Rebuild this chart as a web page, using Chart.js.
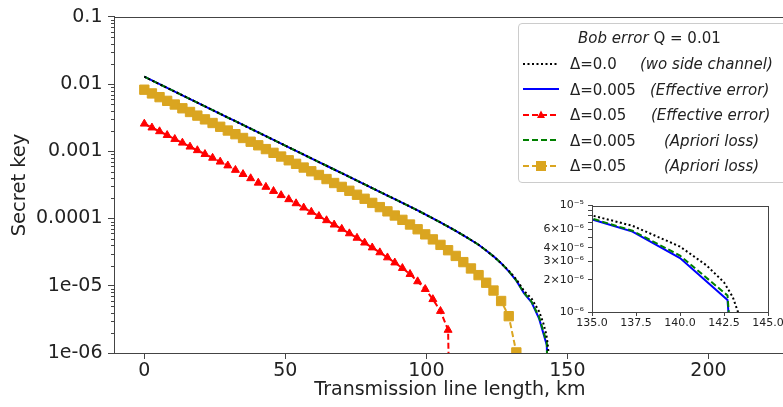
<!DOCTYPE html>
<html>
<head>
<meta charset="utf-8">
<script src="https://cdn.jsdelivr.net/npm/chart.js@4.4.1/dist/chart.umd.min.js"></script>
<style>
  html, body { margin: 0; padding: 0; background: #fff; overflow: hidden; }
  #wrap { position: relative; width: 800px; height: 407px; }
  #main { position: absolute; left: 0; top: 0; }
  #inset { position: absolute; left: 540px; top: 195px; }
  #legend {
    position: absolute; left: 518px; top: 23px; width: 280px; height: 160px;
    box-sizing: border-box; border: 1px solid #ccc; border-radius: 4px;
    background: rgba(255,255,255,0.8);
    font-family: 'DejaVu Sans', sans-serif; font-size: 15px; color: #222;
  }
  #legend .t { position: absolute; line-height: 18px; white-space: nowrap; }
  #legend svg { position: absolute; left: 4px; }
  #legend i { font-style: italic; }
</style>
</head>
<body>
<div id="wrap">
  <canvas id="main" width="800" height="407"></canvas>
  <canvas id="inset" width="250" height="140"></canvas>
  <div id="legend">
    <div class="t" style="left:59px; top:5px"><i>Bob error</i> Q = 0.01</div>

    <svg style="top:34px" width="36" height="12"><line x1="0" y1="6" x2="36" y2="6" stroke="#000" stroke-width="2" stroke-dasharray="2 2.5"/></svg>
    <div class="t" style="left:51px; top:31px">&Delta;=0.0</div>
    <div class="t" style="left:121px; top:31px"><i>(wo side channel)</i></div>

    <svg style="top:59px" width="36" height="12"><line x1="0" y1="6" x2="36" y2="6" stroke="#0000ff" stroke-width="2"/></svg>
    <div class="t" style="left:51px; top:57px">&Delta;=0.005</div>
    <div class="t" style="left:131px; top:57px"><i>(Effective error)</i></div>

    <svg style="top:85px" width="36" height="12"><line x1="0" y1="6" x2="36" y2="6" stroke="#ff0000" stroke-width="2" stroke-dasharray="6 3"/><polygon points="18,1.5 22,9 14,9" fill="#ff0000"/></svg>
    <div class="t" style="left:51px; top:82px">&Delta;=0.05</div>
    <div class="t" style="left:132px; top:82px"><i>(Effective error)</i></div>

    <svg style="top:110px" width="36" height="12"><line x1="0" y1="6" x2="36" y2="6" stroke="#008000" stroke-width="2" stroke-dasharray="6 3"/></svg>
    <div class="t" style="left:51px; top:108px">&Delta;=0.005</div>
    <div class="t" style="left:145px; top:108px"><i>(Apriori loss)</i></div>

    <svg style="top:136px" width="36" height="12"><line x1="0" y1="6" x2="36" y2="6" stroke="#daa520" stroke-width="2" stroke-dasharray="6 3"/><rect x="13" y="1" width="10" height="10" fill="#daa520"/></svg>
    <div class="t" style="left:51px; top:133px">&Delta;=0.05</div>
    <div class="t" style="left:145px; top:133px"><i>(Apriori loss)</i></div>
  </div>
</div>
<script>
// distance grid (km) shared by the effective-error / apriori-loss runs
var distKm = [0, 2.7, 5.4, 8.1, 10.8, 13.5, 16.2, 18.8, 21.5, 24.2, 26.9, 29.6, 32.3, 35, 37.7,
  40.4, 43.1, 45.8, 48.5, 51.2, 53.8, 56.5, 59.2, 61.9, 64.6, 67.3, 70, 72.7, 75.4, 78.1,
  80.8, 83.5, 86.2, 88.8, 91.5, 94.2, 96.9, 99.6, 102.3, 105, 107.7, 110.4, 113.1, 115.8,
  118.5, 121.2, 123.8, 126.5, 129.2, 131.9, 134.6, 137.3, 140, 142.7, 145.4];

// the no-side-channel curve was sampled finer near its cut-off
var noSideKm = [0, 2.7, 5.4, 8.1, 10.8, 13.5, 16.2, 18.8, 21.5, 24.2, 26.9, 29.6, 32.3, 35, 37.7,
  40.4, 43.1, 45.8, 48.5, 51.2, 53.8, 56.5, 59.2, 61.9, 64.6, 67.3, 70, 72.7, 75.4, 78.1,
  80.8, 83.5, 86.2, 88.8, 91.5, 94.2, 96.9, 99.6, 102.3, 105, 107.7, 110.4, 113.1, 115.8,
  118.5, 121.2, 123.8, 126.5, 129.2, 131.9, 134.6, 137.3, 140, 141.5, 142.5, 143, 143.4];

// secret key rates; 1e-12 marks where the rate has dropped to zero
var keyNoSide = [1.29e-2, 1.135e-2, 9.98e-3, 8.79e-3, 7.74e-3, 6.81e-3, 6.0e-3, 5.31e-3, 4.67e-3, 4.11e-3,
  3.62e-3, 3.18e-3, 2.81e-3, 2.47e-3, 2.17e-3, 1.91e-3, 1.68e-3, 1.48e-3, 1.305e-3, 1.148e-3,
  1.016e-3, 8.95e-4, 7.87e-4, 6.93e-4, 6.1e-4, 5.37e-4, 4.73e-4, 4.17e-4, 3.66e-4, 3.23e-4,
  2.84e-4, 2.5e-4, 2.2e-4, 1.95e-4, 1.71e-4, 1.51e-4, 1.32e-4, 1.153e-4, 1.007e-4, 8.75e-5,
  7.59e-5, 6.56e-5, 5.64e-5, 4.8e-5, 4.08e-5, 3.35e-5, 2.74e-5, 2.17e-5, 1.68e-5, 1.245e-5,
  8.4e-6, 6.46e-6, 4.12e-6, 2.75e-6, 1.9e-6, 1.38e-6, 8.9e-7];

var keyEff005 = [1.29e-2, 1.135e-2, 9.98e-3, 8.79e-3, 7.74e-3, 6.81e-3, 6.0e-3, 5.31e-3, 4.67e-3, 4.11e-3,
  3.62e-3, 3.18e-3, 2.81e-3, 2.47e-3, 2.17e-3, 1.91e-3, 1.68e-3, 1.48e-3, 1.305e-3, 1.148e-3,
  1.016e-3, 8.95e-4, 7.87e-4, 6.93e-4, 6.1e-4, 5.37e-4, 4.73e-4, 4.17e-4, 3.66e-4, 3.23e-4,
  2.84e-4, 2.5e-4, 2.2e-4, 1.95e-4, 1.71e-4, 1.51e-4, 1.32e-4, 1.153e-4, 1.007e-4, 8.75e-5,
  7.59e-5, 6.56e-5, 5.64e-5, 4.8e-5, 4.08e-5, 3.35e-5, 2.74e-5, 2.17e-5, 1.64e-5, 1.19e-5,
  7.78e-6, 5.69e-6, 3.21e-6, 1.30e-6, 1e-12];

var keyEff05 = [2.57e-3, 2.25e-3, 1.98e-3, 1.74e-3, 1.52e-3, 1.34e-3, 1.17e-3, 1.035e-3, 9.08e-4, 7.98e-4,
  7.0e-4, 6.14e-4, 5.27e-4, 4.57e-4, 3.96e-4, 3.40e-4, 2.95e-4, 2.56e-4, 2.22e-4, 1.93e-4,
  1.68e-4, 1.45e-4, 1.256e-4, 1.086e-4, 9.4e-5, 8.1e-5, 7.0e-5, 6.0e-5, 5.15e-5, 4.37e-5,
  3.7e-5, 3.13e-5, 2.63e-5, 2.21e-5, 1.83e-5, 1.49e-5, 1.16e-5, 8.9e-6, 6.3e-6, 4.2e-6,
  2.2e-6, 1e-12];

var keyApr005 = [1.29e-2, 1.135e-2, 9.98e-3, 8.79e-3, 7.74e-3, 6.81e-3, 6.0e-3, 5.31e-3, 4.67e-3, 4.11e-3,
  3.62e-3, 3.18e-3, 2.81e-3, 2.47e-3, 2.17e-3, 1.91e-3, 1.68e-3, 1.48e-3, 1.305e-3, 1.148e-3,
  1.016e-3, 8.95e-4, 7.87e-4, 6.93e-4, 6.1e-4, 5.37e-4, 4.73e-4, 4.17e-4, 3.66e-4, 3.23e-4,
  2.84e-4, 2.5e-4, 2.2e-4, 1.95e-4, 1.71e-4, 1.51e-4, 1.32e-4, 1.153e-4, 1.007e-4, 8.75e-5,
  7.59e-5, 6.56e-5, 5.64e-5, 4.8e-5, 4.08e-5, 3.35e-5, 2.74e-5, 2.17e-5, 1.65e-5, 1.2e-5,
  7.9e-6, 5.8e-6, 3.39e-6, 1.43e-6, 1e-12];

var keyApr05 = [8.26e-3, 7.27e-3, 6.4e-3, 5.64e-3, 4.97e-3, 4.37e-3, 3.85e-3, 3.4e-3, 2.99e-3, 2.64e-3,
  2.32e-3, 2.04e-3, 1.8e-3, 1.58e-3, 1.39e-3, 1.23e-3, 1.08e-3, 9.5e-4, 8.37e-4, 7.36e-4,
  6.52e-4, 5.74e-4, 5.05e-4, 4.45e-4, 3.87e-4, 3.38e-4, 2.96e-4, 2.59e-4, 2.26e-4, 1.97e-4,
  1.71e-4, 1.48e-4, 1.28e-4, 1.11e-4, 9.57e-5, 8.15e-5, 6.93e-5, 5.82e-5, 4.9e-5, 4.06e-5,
  3.38e-5, 2.78e-5, 2.25e-5, 1.81e-5, 1.44e-5, 1.11e-5, 8.5e-6, 5.94e-6, 3.53e-6, 1.02e-6,
  1e-12];

var xTicks = [0, 50, 100, 150, 200];
var yTicks = [1e-6, 1e-5, 1e-4, 1e-3, 1e-2, 1e-1];
var yTickLabels = ['1e-06', '1e-05', '0.0001', '0.001', '0.01', '0.1'];

var insetXTicks = [135, 137.5, 140, 142.5, 145];
var insetXLabels = ['135.0', '137.5', '140.0', '142.5', '145.0'];
var insetYTicks = [1e-6, 2e-6, 3e-6, 4e-6, 5e-6, 6e-6, 7e-6, 8e-6, 9e-6, 1e-5];
var insetYLabels = ['10\u207B\u2076', '2\u00D710\u207B\u2076', '3\u00D710\u207B\u2076', '4\u00D710\u207B\u2076', '',
  '6\u00D710\u207B\u2076', '', '', '', '10\u207B\u2075'];

Chart.defaults.font.family = "'DejaVu Sans', sans-serif";
Chart.defaults.color = '#222';

function pairs(xs, ys) {
  return ys.map(function (v, i) { return {x: xs[i], y: v}; });
}

function makeDatasets(withMarkers) {
  var sets = [
    {data: pairs(noSideKm, keyNoSide), borderColor: '#000', borderDash: [2, 2.5], order: 0},
    {data: pairs(distKm, keyEff005), borderColor: '#0000ff', order: 2},
    {data: pairs(distKm, keyApr005), borderColor: '#008000', borderDash: [6, 3], order: 1}
  ];
  if (withMarkers) {
    sets.push({data: pairs(distKm, keyEff05), borderColor: '#ff0000', borderDash: [6, 3],
      pointStyle: 'triangle', pointRadius: 4.6, pointBackgroundColor: '#ff0000', pointBorderColor: '#ff0000', order: 4});
    sets.push({data: pairs(distKm, keyApr05), borderColor: '#daa520', borderDash: [6, 3],
      pointStyle: 'rect', pointRadius: 6.6, pointBackgroundColor: '#daa520', pointBorderColor: '#daa520', order: 3});
  }
  sets.forEach(function (s) {
    s.borderWidth = 2;
    s.tension = 0;
    s.fill = false;
    if (s.pointRadius === undefined) s.pointRadius = 0;
    s.pointBorderWidth = 1;
  });
  return sets;
}

// full frame around the plot area plus short minor ticks on the log axis
var framePlugin = {
  id: 'frame',
  afterDraw: function (chart, args, opts) {
    var ctx = chart.ctx, a = chart.chartArea;
    ctx.save();
    ctx.strokeStyle = '#444';
    ctx.lineWidth = 1;
    ctx.strokeRect(Math.round(a.left) + 0.5, Math.round(a.top) + 0.5,
      Math.round(a.right - a.left), Math.round(a.bottom - a.top));
    if (opts.minorLen) {
      var y = chart.scales.y;
      ctx.beginPath();
      for (var e = -6; e < -1; e++) {
        for (var m = 2; m < 10; m++) {
          var py = Math.round(y.getPixelForValue(m * Math.pow(10, e))) + 0.5;
          ctx.moveTo(a.left - opts.minorLen, py);
          ctx.lineTo(a.left, py);
        }
      }
      ctx.stroke();
    }
    ctx.restore();
  }
};

new Chart(document.getElementById('main'), {
  type: 'line',
  data: {datasets: makeDatasets(true)},
  plugins: [framePlugin],
  options: {
    responsive: false,
    animation: false,
    layout: {padding: {left: 0, top: 16, right: 14, bottom: 0}},
    plugins: {legend: {display: false}, tooltip: {enabled: false}, frame: {minorLen: 3}},
    scales: {
      x: {
        type: 'linear', min: -10.75, max: 227.5,
        afterBuildTicks: function (s) { s.ticks = xTicks.map(function (v) { return {value: v}; }); },
        afterFit: function (s) { s.height = 54; },
        ticks: {font: {size: 19}, padding: 1, maxRotation: 0, autoSkip: false},
        grid: {drawOnChartArea: false, tickLength: 6, color: '#444'},
        border: {color: '#444'},
        title: {display: true, text: 'Transmission line length, km', font: {size: 19}, padding: {top: 0, bottom: 6}}
      },
      y: {
        type: 'logarithmic', min: 1e-6, max: 0.1,
        afterBuildTicks: function (s) { s.ticks = yTicks.map(function (v) { return {value: v}; }); },
        afterFit: function (s) { s.width = 114; },
        ticks: {font: {size: 19}, padding: 5.5, autoSkip: false,
          callback: function (v, i) { return yTickLabels[i]; }},
        grid: {drawOnChartArea: false, tickLength: 6, color: '#444'},
        border: {color: '#444'},
        title: {display: true, text: 'Secret key', font: {size: 19.5}, padding: {top: 8, bottom: 0}}
      }
    }
  }
});

// zoomed inset around the cut-off distance
new Chart(document.getElementById('inset'), {
  type: 'line',
  data: {datasets: makeDatasets(false)},
  plugins: [framePlugin, {
    id: 'insetBg',
    beforeDraw: function (chart) {
      var a = chart.chartArea;
      chart.ctx.fillStyle = '#fff';
      chart.ctx.fillRect(a.left, a.top, a.right - a.left, a.bottom - a.top);
    }
  }],
  options: {
    responsive: false,
    animation: false,
    layout: {padding: {left: 0, top: 8, right: 22, bottom: 0}},
    plugins: {legend: {display: false}, tooltip: {enabled: false}, frame: {minorLen: 0}},
    scales: {
      x: {
        type: 'linear', min: 135, max: 145,
        afterBuildTicks: function (s) { s.ticks = insetXTicks.map(function (v) { return {value: v}; }); },
        afterFit: function (s) { s.height = 23; },
        ticks: {font: {size: 11}, padding: 1, maxRotation: 0, autoSkip: false,
          callback: function (v, i) { return insetXLabels[i]; }},
        grid: {drawOnChartArea: false, tickLength: 4, color: '#444'},
        border: {color: '#444'}
      },
      y: {
        type: 'logarithmic', min: 1e-6, max: 1e-5,
        afterBuildTicks: function (s) { s.ticks = insetYTicks.map(function (v) { return {value: v}; }); },
        afterFit: function (s) { s.width = 52; },
        ticks: {font: {size: 11}, padding: 4, autoSkip: false,
          callback: function (v, i) { return insetYLabels[i]; }},
        grid: {drawOnChartArea: false, tickLength: 4, color: '#444'},
        border: {color: '#444'}
      }
    }
  }
});
</script>
</body>
</html>
